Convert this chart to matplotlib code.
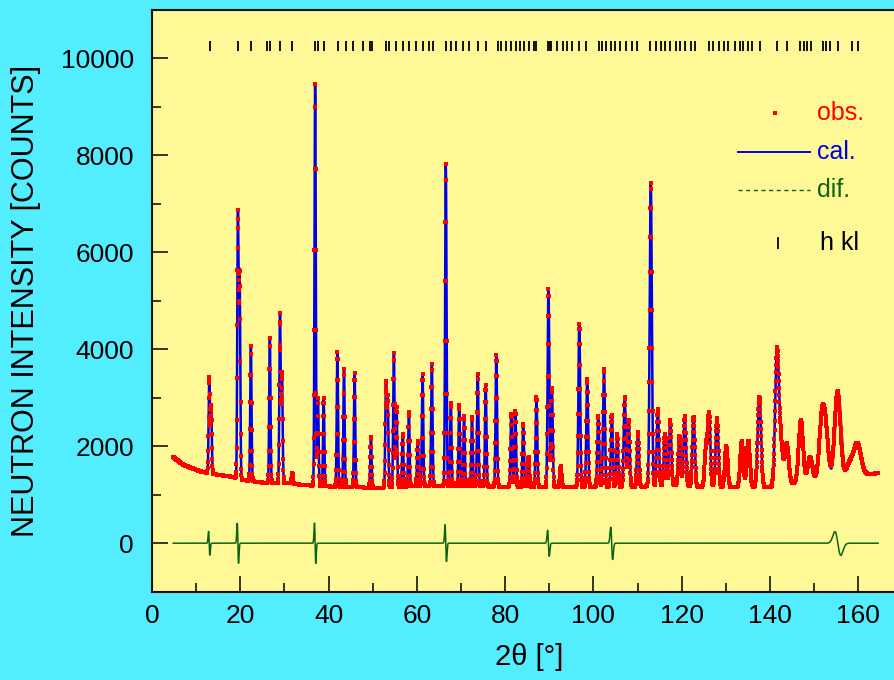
import numpy as np
import matplotlib
matplotlib.use("Agg")
import matplotlib.pyplot as plt
from matplotlib.ticker import MultipleLocator
from matplotlib.lines import Line2D

# ---------------- data ----------------
peak_pos = [12.95, 13.4, 19.45, 19.85, 22.4, 26.7, 29.0, 29.45, 31.8, 36.95,
            37.6, 38.9, 42.0, 43.5, 45.9, 49.6, 53.0, 53.4, 54.8, 55.4,
            56.8, 58.2, 60.2, 61.3, 63.4, 66.55, 67.7, 69.6, 70.7, 72.5,
            73.8, 75.6, 78.0, 81.4, 82.3, 84.1, 85.3, 87.1, 89.8, 90.6,
            92.6, 96.8, 98.6, 101.1, 102.4, 104.1, 105.4, 107.1, 108.0, 110.1,
            113.0, 114.6, 116.2, 117.4, 119.5, 120.7, 122.7, 125.5, 126.2, 128.0,
            130.1, 133.6, 135.1, 137.6, 141.6, 142.5, 143.8, 147.0, 149.1, 151.7,
            152.6, 155.3, 158.1, 159.8]
peak_top = [3420, 2830, 6780, 5500, 4070, 4240, 4720, 3500, 1450, 9470,
            3000, 3000, 3950, 3600, 3500, 2200, 3300, 3000, 3930, 2800,
            2250, 2700, 2100, 3480, 3690, 7820, 2900, 2850, 2630, 2610,
            3480, 3260, 3880, 2670, 2730, 2460, 1770, 3020, 5250, 3200,
            1600, 4520, 3380, 2630, 3600, 2650, 2250, 3020, 2530, 2290,
            7430, 2760, 2250, 2530, 2200, 2630, 2610, 1980, 2660, 2580,
            2010, 2110, 2110, 3010, 3960, 1980, 2050, 2530, 1770, 2420,
            2300, 3130, 1640, 2050]

bg_angle = [4.8, 7, 11, 15, 18, 21, 25, 31, 34, 40, 51, 60, 90, 110, 118, 125,
            140, 150, 158, 165]
bg_counts = [1780, 1620, 1480, 1410, 1370, 1300, 1250, 1240, 1200, 1170, 1140,
             1180, 1160, 1160, 1200, 1160, 1150, 1300, 1380, 1450]

# peaks where the calculated profile is slightly off (gives the spikes in dif.)
misfit_pos = [12.95, 19.45, 36.95, 66.55, 89.8, 104.1, 155.3]
misfit_shift = [0.03, 0.018, 0.012, 0.015, 0.02, 0.08, 0.15]

hkl_pos = [13.1, 19.5, 22.5, 26.1, 26.8, 29.1, 31.8, 37.0, 37.6, 38.9, 42.1,
           44.0, 45.6, 47.8, 49.3, 49.8, 53.0, 53.8, 55.3, 56.8, 58.3, 59.8,
           61.3, 62.8, 63.6, 66.6, 67.7, 68.9, 70.4, 71.9, 73.8, 75.6, 78.3,
           79.0, 80.2, 81.3, 82.4, 83.3, 84.3, 85.4, 86.6, 87.0, 89.8, 90.2,
           90.5, 91.8, 93.0, 94.1, 95.2, 96.7, 98.4, 101.2, 102.0, 102.8,
           103.9, 105.0, 106.1, 107.3, 108.8, 109.9, 112.9, 114.1, 115.2,
           116.3, 117.4, 118.6, 119.7, 120.8, 122.0, 123.1, 126.1, 127.2,
           128.4, 129.5, 130.6, 132.1, 133.3, 134.0, 135.1, 135.9, 137.8,
           141.5, 143.8, 146.8, 147.6, 148.3, 149.4, 152.1, 152.8, 153.6,
           155.5, 158.5, 160.0]

x_ticks = [0, 20, 40, 60, 80, 100, 120, 140, 160]
y_ticks = [0, 2000, 4000, 6000, 8000, 10000]
legend_labels = ["obs.", "cal.", "dif.", "h kl"]

scan_start, scan_stop, scan_step = 4.8, 164.5, 0.05
# profile parameters (Caglioti U, V, W)
U, V, W = 0.12, -0.05, 0.12

# ---------------- profile calculation ----------------
tt = np.arange(scan_start, scan_stop + 1e-9, scan_step)
bg = np.interp(tt, bg_angle, bg_counts)


def fwhm(p):
    t = np.tan(np.radians(p / 2.0))
    return np.sqrt(U * t * t + V * t + W)


def profile(positions):
    y = bg.copy()
    for p0, p, top in zip(peak_pos, positions, peak_top):
        h = top - np.interp(p0, bg_angle, bg_counts)
        f = fwhm(p)
        y += h * np.exp(-4 * np.log(2) * (tt - p) ** 2 / f ** 2)
    return y


obs = profile(peak_pos)
cal_pos = list(peak_pos)
for mp, ms in zip(misfit_pos, misfit_shift):
    i = int(np.argmin(np.abs(np.array(peak_pos) - mp)))
    cal_pos[i] = peak_pos[i] + ms
cal = profile(cal_pos)
dif = obs - cal

# ---------------- figure ----------------
CYAN = "#52EEFF"
YELLOW = "#FFF896"
RED = "#FF0000"
BLUE = "#0000E6"
GREEN = "#0A6414"

plt.rcParams['font.family'] = ['Liberation Sans', 'DejaVu Sans']

W_PX, H_PX = 894, 680
fig = plt.figure(figsize=(W_PX / 100, H_PX / 100), dpi=100, facecolor=CYAN)
ax = fig.add_axes([152 / W_PX, 88.3 / H_PX, 750.4 / W_PX, 582 / H_PX])
ax.set_facecolor(YELLOW)

ax.plot(tt, cal, color=BLUE, lw=1.8, zorder=2)
ax.plot(tt, obs, linestyle='none', marker='s', ms=3.2, mew=0, color=RED, zorder=3)
ax.plot(tt, dif, color=GREEN, lw=1.1, zorder=2)
ax.plot(hkl_pos, [10250] * len(hkl_pos), linestyle='none', marker='|',
        ms=7.3, mew=1.3, color='black', zorder=2)

ax.set_xlim(0, 170)
ax.set_ylim(-1000, 11000)
ax.set_xticks(x_ticks)
ax.set_xticklabels([str(v) for v in x_ticks])
ax.set_yticks(y_ticks)
ax.set_yticklabels([str(v) for v in y_ticks])
ax.xaxis.set_minor_locator(MultipleLocator(10))
ax.yaxis.set_minor_locator(MultipleLocator(1000))
ax.tick_params(which='major', direction='in', length=11.5, width=1.1,
               labelsize=19, color='black')
ax.tick_params(which='minor', direction='in', length=6.5, width=1.1, color='black')
ax.tick_params(axis='y', which='both', pad=13)
ax.tick_params(axis='x', which='both', pad=9)
ax.tick_params(axis='x', which='both', top=False)
ax.tick_params(axis='y', which='both', right=False)

for s in ['left', 'bottom', 'top']:
    ax.spines[s].set_linewidth(1.5)
    ax.spines[s].set_color('#111111')
ax.spines['right'].set_visible(False)

ax.set_ylabel("NEUTRON INTENSITY [COUNTS]", fontsize=22)
ax.yaxis.set_label_coords(-0.148, 0.5)
ax.set_xlabel("2θ [°]", fontsize=21)
ax.xaxis.set_label_coords(0.503, -0.088)


# ---------------- legend (pixel positions in figure) ----------------
def fx(px):
    return px / W_PX


def fy(py):
    return 1 - py / H_PX


fig.add_artist(Line2D([fx(775)], [fy(113)], marker='s', ms=2.6, mew=0,
                      color=RED, linestyle='none'))
fig.text(fx(817), fy(113), legend_labels[0], color=RED, fontsize=18,
         va='center', ha='left')
fig.add_artist(Line2D([fx(738), fx(810)], [fy(152), fy(152)], color=BLUE, lw=1.4))
fig.text(fx(817), fy(152), legend_labels[1], color=BLUE, fontsize=18,
         va='center', ha='left')
fig.add_artist(Line2D([fx(738), fx(810)], [fy(190), fy(190)], color=GREEN, lw=1.0,
                      linestyle=(0, (3, 2.5))))
fig.text(fx(817), fy(190), legend_labels[2], color=GREEN, fontsize=18,
         va='center', ha='left')
fig.add_artist(Line2D([fx(778), fx(778)], [fy(238), fy(248)], color='black', lw=1.3))
fig.text(fx(820), fy(243), legend_labels[3], color='black', fontsize=18,
         va='center', ha='left')

fig.savefig("out.png", dpi=100, facecolor=CYAN)
